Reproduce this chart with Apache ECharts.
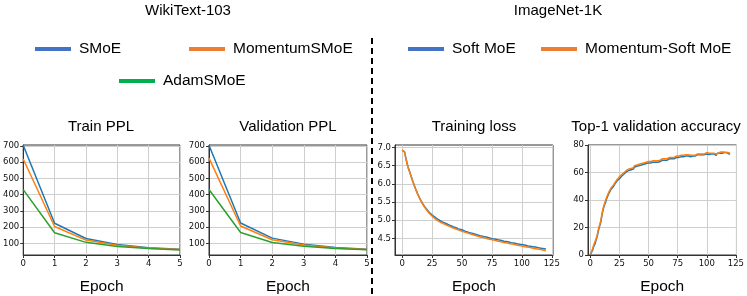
<!DOCTYPE html>
<html><head><meta charset="utf-8">
<script src="https://cdn.jsdelivr.net/npm/echarts@6/dist/echarts.min.js"></script>
<style>html,body{margin:0;padding:0;background:#fff}#c{width:747px;height:296px}</style>
</head><body><div id="c"></div>
<script>
// ---------- data ----------
const ppEpochs = [0, 1, 2, 3, 4, 5];
const trainSMoE = [705, 224, 130, 93, 72, 63];
const trainMomentum = [620, 204, 120, 88, 70, 62];
const trainAdam = [431, 165, 106, 80, 68, 59];
const valSMoE = [705, 225, 132, 95, 74, 64];
const valMomentum = [625, 207, 122, 90, 71, 62];
const valAdam = [432, 167, 105, 82, 68, 60];
const pplTicks = [100, 200, 300, 400, 500, 600, 700];

const lossSoft = [6.93,6.92,6.88,6.72,6.58,6.45,6.36,6.26,6.16,6.06,5.97,5.88,5.80,5.72,5.65,5.58,5.52,5.46,5.41,5.36,5.32,5.28,5.24,5.20,5.17,5.14,5.11,5.09,5.06,5.04,5.02,5.00,4.98,4.96,4.95,4.93,4.91,4.90,4.88,4.87,4.85,4.84,4.83,4.81,4.80,4.79,4.77,4.76,4.75,4.74,4.72,4.72,4.70,4.69,4.68,4.67,4.66,4.65,4.64,4.63,4.62,4.61,4.60,4.59,4.58,4.57,4.57,4.56,4.55,4.54,4.53,4.53,4.52,4.51,4.50,4.49,4.49,4.48,4.47,4.47,4.46,4.45,4.44,4.44,4.43,4.42,4.42,4.41,4.40,4.40,4.39,4.38,4.38,4.37,4.36,4.36,4.35,4.34,4.34,4.33,4.32,4.32,4.31,4.31,4.30,4.29,4.29,4.28,4.28,4.27,4.26,4.26,4.25,4.25,4.24,4.23,4.23,4.22,4.22,4.21,4.20];
const lossMomentum = [6.93,6.92,6.87,6.71,6.56,6.44,6.35,6.25,6.15,6.05,5.96,5.87,5.79,5.71,5.64,5.57,5.51,5.45,5.39,5.34,5.30,5.25,5.21,5.17,5.14,5.11,5.08,5.05,5.03,5.00,4.98,4.96,4.94,4.93,4.91,4.89,4.88,4.86,4.85,4.83,4.82,4.81,4.79,4.78,4.77,4.75,4.74,4.73,4.72,4.71,4.69,4.68,4.67,4.66,4.65,4.64,4.63,4.62,4.61,4.60,4.59,4.58,4.57,4.56,4.55,4.54,4.53,4.53,4.52,4.51,4.50,4.49,4.48,4.48,4.47,4.46,4.45,4.45,4.44,4.43,4.42,4.42,4.41,4.40,4.39,4.39,4.38,4.37,4.37,4.36,4.35,4.35,4.34,4.33,4.33,4.32,4.31,4.31,4.30,4.29,4.29,4.28,4.27,4.27,4.26,4.26,4.25,4.24,4.24,4.23,4.22,4.22,4.21,4.21,4.20,4.19,4.19,4.18,4.17,4.17,4.16];
const lossTicks = [4.5, 5.0, 5.5, 6.0, 6.5, 7.0];

const accSoft = [0.3,1.0,3.5,6.5,8.0,11,14,18,21,24,29,33,36,38,41,43,45,46,48,49,50,51.5,52,54,55,55.5,55,57.5,58.5,59,60,60.5,61,61.5,62,62,63,62.5,64,63.5,64.5,64,65,64.5,65.5,65,66,65.5,66.5,66,67,66.5,67,65.8,67.5,67,67.5,68,67.5,68.5,68,68.5,69,68.5,69,69.5,69,69.5,70,69.5,70,70.5,70,70.5,71,70.5,71,70.5,71.5,71,71.5,71.5,72,71.5,72,72,71.5,72.5,72,72.5,72,72.5,73,72.5,73,72.5,73,73.5,73,73.5,73.5,74,73,74,73.5,74,73.5,74,72.5,74,73.5,74,74.5,74,74.5,74.5,74,74.5,73.5,73.5,73.5];
const accMomentum = [0.5,1.5,4.5,7.5,8.5,12,15,19,22,25,30,34,37,39.5,42,44,46,47,49,50,51,52.5,53.5,55,56,57,56.5,58.5,59.5,60,61,61.5,61.5,62.5,63,63,64,63.5,65,64.5,65.5,65,66,65.5,66.5,66,67,66.5,67.5,67,68,67.5,68,67,68.5,68,68.5,69,68.5,69.5,69,69.5,70,69.5,70,70.5,70,70.5,71,70.5,71,71.5,71,71.5,72,71.5,72,71.5,72.5,72,72.5,72.5,73,72.5,73,73,72.5,73,72.5,73,72.5,73,73.5,73,73.5,73,73.5,74,73.5,74,74.5,75,74,74.5,74,74.5,74,74.5,73.5,74.5,74,74.5,75,74.5,75,75,74.5,75,74.5,74,74];
const epochTicks = [0, 25, 50, 75, 100, 125];
const accTicks = [0, 20, 40, 60, 80];

// ---------- helpers ----------
const pairs = (xs, ys) => ys.map((y, i) => [xs ? xs[i] : i, y]);
const TITLE_FONT = 'Liberation Sans, Arial, sans-serif';
const TICK_FONT = 'DejaVu Sans, sans-serif';
const gridBase = { show: true, borderColor: '#333', borderWidth: 1, backgroundColor: 'transparent' };
const grids = [
  Object.assign({ left: 21, top: 145, width: 159, height: 111 }, gridBase),
  Object.assign({ left: 209, top: 145, width: 158, height: 111 }, gridBase),
  Object.assign({ left: 395, top: 145, width: 158, height: 110 }, gridBase),
  Object.assign({ left: 588, top: 145, width: 152, height: 111 }, gridBase)
];
function axisCommon(custom, fmt) {
  const o = {
    axisLine: { show: true, onZero: false, lineStyle: { color: '#333', width: 1 } },
    axisTick: { show: true, length: 3, lineStyle: { color: '#333' } },
    axisLabel: { fontSize: 8.5, fontFamily: TICK_FONT, color: '#111' },
    splitLine: { show: true, lineStyle: { color: '#cfcfcf', width: 1 } }
  };
  if (custom) {
    o.axisTick.customValues = custom;
    o.axisLabel.customValues = custom;
  }
  if (fmt) o.axisLabel.formatter = fmt;
  return o;
}
function xAx(idx, min, max, custom, interval) {
  const o = Object.assign({ type: 'value', gridIndex: idx, min, max,
    name: 'Epoch', nameLocation: 'middle', nameGap: 24,
    nameTextStyle: { fontSize: 15.5, fontFamily: TITLE_FONT, color: '#000' } }, axisCommon(custom));
  if (interval) o.interval = interval;
  o.axisLabel.margin = 4;
  return o;
}
function yAx(idx, min, max, custom, fmt, interval) {
  const o = Object.assign({ type: 'value', gridIndex: idx, min, max }, axisCommon(custom, fmt));
  if (interval) o.interval = interval;
  o.axisLabel.margin = 4;
  return o;
}
function line(name, data, color, xi) {
  return { type: 'line', name, data, xAxisIndex: xi, yAxisIndex: xi, showSymbol: false, symbol: 'none',
    lineStyle: { color, width: 1.5 }, itemStyle: { color }, animation: false };
}
const C_BLUE = '#1f77b4', C_ORANGE = '#ff7f0e', C_GREEN = '#2ca02c';
function legendAt(name, left, top, color) {
  return { show: true, left, top, padding: 0, itemWidth: 36, itemHeight: 4, itemGap: 0,
    textStyle: { fontSize: 15.5, fontFamily: TITLE_FONT, color: '#000', padding: [0, 0, 0, 3] },
    data: [{ name, icon: 'rect', itemStyle: { color } }], selectedMode: false };
}
function titleAt(text, x, y) {
  return { text, left: x, top: y, textAlign: 'center', padding: 0,
    textStyle: { fontSize: 15, fontWeight: 'normal', fontFamily: TITLE_FONT, color: '#000' } };
}

const option = {
  backgroundColor: '#fff',
  animation: false,
  title: [
    titleAt('WikiText-103', 188, 3),
    titleAt('ImageNet-1K', 558, 3),
    titleAt('Train PPL', 101, 119),
    titleAt('Validation PPL', 288, 119),
    titleAt('Training loss', 474, 119),
    titleAt('Top-1 validation accuracy', 656, 119)
  ],
  legend: [
    legendAt('SMoE', 35, 41, '#4472c4'),
    legendAt('MomentumSMoE', 189, 41, '#ed7d31'),
    legendAt('AdamSMoE', 119, 73, '#00b050'),
    legendAt('Soft MoE', 408, 41, '#4472c4'),
    legendAt('Momentum-Soft MoE', 541, 41, '#ed7d31')
  ],
  grid: grids,
  xAxis: [
    xAx(0, 0, 5, null, 1),
    xAx(1, 0, 5, null, 1),
    xAx(2, -6, 126, epochTicks),
    xAx(3, -2, 125.5, epochTicks)
  ],
  yAxis: [
    yAx(0, 28, 706, pplTicks),
    yAx(1, 28, 706, pplTicks),
    yAx(2, 4.04, 7.07, lossTicks, v => v.toFixed(1)),
    yAx(3, 0, 80, null, null, 20)
  ],
  series: [
    line('SMoE', pairs(ppEpochs, trainSMoE), C_BLUE, 0),
    line('MomentumSMoE', pairs(ppEpochs, trainMomentum), C_ORANGE, 0),
    line('AdamSMoE', pairs(ppEpochs, trainAdam), C_GREEN, 0),
    line('SMoE', pairs(ppEpochs, valSMoE), C_BLUE, 1),
    line('MomentumSMoE', pairs(ppEpochs, valMomentum), C_ORANGE, 1),
    line('AdamSMoE', pairs(ppEpochs, valAdam), C_GREEN, 1),
    line('Soft MoE', pairs(null, lossSoft), C_BLUE, 2),
    line('Momentum-Soft MoE', pairs(null, lossMomentum), C_ORANGE, 2),
    line('Soft MoE', pairs(null, accSoft), C_BLUE, 3),
    line('Momentum-Soft MoE', pairs(null, accMomentum), C_ORANGE, 3)
  ],
  graphic: [
    { type: 'line', shape: { x1: 372, y1: 38, x2: 372, y2: 296 },
      style: { stroke: '#000', lineWidth: 2, lineDash: [6, 4] }, silent: true }
  ]
};
const chart = echarts.init(document.getElementById('c'), null, { renderer: 'canvas' });
chart.setOption(option);
</script></body></html>
